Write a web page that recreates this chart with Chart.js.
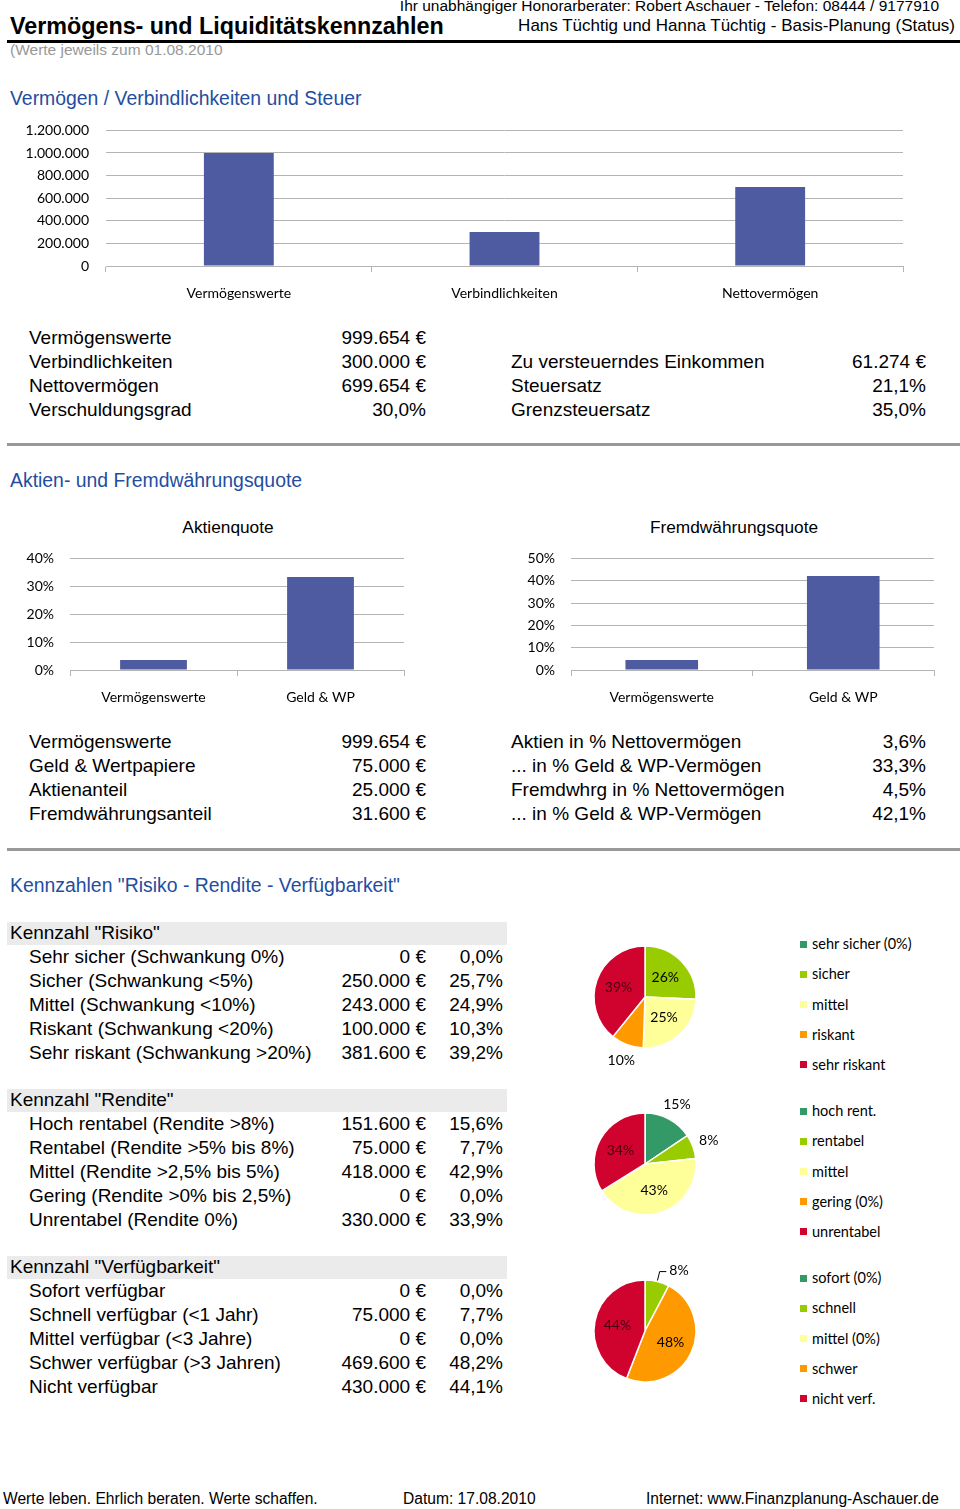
<!DOCTYPE html>
<html><head><meta charset="utf-8">
<script src="https://cdn.jsdelivr.net/npm/chart.js@4.4.0/dist/chart.umd.min.js"></script>
<style>
html,body{margin:0;padding:0;background:#fff;}
body{width:960px;height:1509px;position:relative;overflow:hidden;font-family:"Liberation Sans",Arial,sans-serif;color:#000;}
.t{position:absolute;white-space:nowrap;}
canvas{position:absolute;}
.box{position:absolute;}
</style></head><body>
<script>
// ---------- DATA ----------
const vermCategories = ['Vermögenswerte', 'Verbindlichkeiten', 'Nettovermögen'];
const vermValues = [999654, 300000, 699654];
const vermTickMax = 1200000, vermTickStep = 200000;

const quoteCategories = ['Vermögenswerte', 'Geld & WP'];
const aktienValues = [3.6, 33.3];
const aktienTickMax = 40;
const fremdValues = [4.5, 42.1];
const fremdTickMax = 50;

const tab1Labels = ['Vermögenswerte', 'Verbindlichkeiten', 'Nettovermögen', 'Verschuldungsgrad'];
const tab1Values = ['999.654 €', '300.000 €', '699.654 €', '30,0%'];
const tab1RightLabels = ['', 'Zu versteuerndes Einkommen', 'Steuersatz', 'Grenzsteuersatz'];
const tab1RightValues = ['', '61.274 €', '21,1%', '35,0%'];

const tab2Labels = ['Vermögenswerte', 'Geld & Wertpapiere', 'Aktienanteil', 'Fremdwährungsanteil'];
const tab2Values = ['999.654 €', '75.000 €', '25.000 €', '31.600 €'];
const tab2RightLabels = ['Aktien in % Nettovermögen', '... in % Geld & WP-Vermögen', 'Fremdwhrg in % Nettovermögen', '... in % Geld & WP-Vermögen'];
const tab2RightValues = ['3,6%', '33,3%', '4,5%', '42,1%'];

const risikoTitle = 'Kennzahl "Risiko"';
const risikoLabels = ['Sehr sicher (Schwankung 0%)', 'Sicher (Schwankung <5%)', 'Mittel (Schwankung <10%)', 'Riskant (Schwankung <20%)', 'Sehr riskant (Schwankung >20%)'];
const risikoAmounts = ['0 €', '250.000 €', '243.000 €', '100.000 €', '381.600 €'];
const risikoPercents = [0.0, 25.7, 24.9, 10.3, 39.2];
const risikoPieText = ['', '26%', '25%', '10%', '39%'];
const risikoLegend = ['sehr sicher (0%)', 'sicher', 'mittel', 'riskant', 'sehr riskant'];

const renditeTitle = 'Kennzahl "Rendite"';
const renditeLabels = ['Hoch rentabel (Rendite >8%)', 'Rentabel (Rendite >5% bis 8%)', 'Mittel (Rendite >2,5% bis 5%)', 'Gering (Rendite >0% bis 2,5%)', 'Unrentabel (Rendite 0%)'];
const renditeAmounts = ['151.600 €', '75.000 €', '418.000 €', '0 €', '330.000 €'];
const renditePercents = [15.6, 7.7, 42.9, 0.0, 33.9];
const renditePieText = ['15%', '8%', '43%', '', '34%'];
const renditeLegend = ['hoch rent.', 'rentabel', 'mittel', 'gering (0%)', 'unrentabel'];

const verfTitle = 'Kennzahl "Verfügbarkeit"';
const verfLabels = ['Sofort verfügbar', 'Schnell verfügbar (<1 Jahr)', 'Mittel verfügbar (<3 Jahre)', 'Schwer verfügbar (>3 Jahren)', 'Nicht verfügbar'];
const verfAmounts = ['0 €', '75.000 €', '0 €', '469.600 €', '430.000 €'];
const verfPercents = [0.0, 7.7, 0.0, 48.2, 44.1];
const verfPieText = ['', '8%', '', '48%', '44%'];
const verfLegend = ['sofort (0%)', 'schnell', 'mittel (0%)', 'schwer', 'nicht verf.'];

// ---------- STYLE ----------
const BAR_COLOR = '#4F5BA1';
const GRID = '#b4b4b4';
const BLUE = '#1F4E9F';
const PIE_COLORS = ['#339966', '#99CC00', '#FFFF99', '#FF9900', '#D0022E'];
const PIE_TEXT = ['#000', '#000', '#000', '#000', '#4a000e'];
const CHART_FONT = 'Lato, "Open Sans", sans-serif';
const TS = 19; // table font size
const fmtDot = n => String(Math.round(n)).replace(/\B(?=(\d{3})+(?!\d))/g, '.');

// ---------- helpers ----------
function tb(x, baseline, text, size, o = {}) {
  const d = document.createElement('div');
  d.className = 't';
  d.textContent = text;
  d.style.fontSize = size + 'px';
  d.style.lineHeight = (size * 1.2) + 'px';
  d.style.top = (baseline - 0.9465 * size) + 'px';
  if (o.family) d.style.fontFamily = o.family;
  if (o.weight) d.style.fontWeight = o.weight;
  if (o.color) d.style.color = o.color;
  if (o.align === 'right') d.style.right = (960 - x) + 'px';
  else if (o.align === 'center') { d.style.left = (x - 300) + 'px'; d.style.width = '600px'; d.style.textAlign = 'center'; }
  else d.style.left = x + 'px';
  document.body.appendChild(d);
  return d;
}
function box(x, y, w, h, color) {
  const d = document.createElement('div');
  d.className = 'box';
  Object.assign(d.style, {left: x + 'px', top: y + 'px', width: w + 'px', height: h + 'px', background: color});
  document.body.appendChild(d);
}
function canvas(x, y, w, h) {
  const c = document.createElement('canvas');
  c.width = w; c.height = h;
  Object.assign(c.style, {left: x + 'px', top: y + 'px', width: w + 'px', height: h + 'px'});
  document.body.appendChild(c);
  return c;
}

// ---------- header ----------
tb(939, 11.5, 'Ihr unabhängiger Honorarberater: Robert Aschauer - Telefon: 08444 / 9177910', 15.5, {align: 'right'});
tb(10, 35, 'Vermögens- und Liquiditätskennzahlen', 23.3, {weight: 'bold'});
tb(955, 32, 'Hans Tüchtig und Hanna Tüchtig - Basis-Planung (Status)', 17, {align: 'right'});
box(7, 40, 953, 3, '#000');
tb(10, 56, '(Werte jeweils zum 01.08.2010', 15.5, {color: '#999'});

tb(10, 105, 'Vermögen / Verbindlichkeiten und Steuer', 19.4, {color: BLUE});
tb(10, 487, 'Aktien- und Fremdwährungsquote', 19.4, {color: BLUE});
tb(10, 892, 'Kennzahlen "Risiko - Rendite - Verfügbarkeit"', 19.4, {color: BLUE});

box(7, 443, 953, 3, '#999');
box(7, 848, 953, 3, '#999');

// ---------- tables ----------
function twoColTable(base, labels, values, rLabels, rValues) {
  labels.forEach((l, i) => {
    const y = base + i * 24;
    if (l) { tb(29, y, l, TS); tb(426, y, values[i], TS, {align: 'right'}); }
    if (rLabels[i]) { tb(511, y, rLabels[i], TS); tb(926, y, rValues[i], TS, {align: 'right'}); }
  });
}
twoColTable(344.5, tab1Labels, tab1Values, tab1RightLabels, tab1RightValues);
twoColTable(748.5, tab2Labels, tab2Values, tab2RightLabels, tab2RightValues);

function kennTable(base, title, labels, amounts, percents) {
  box(7, base - 17.5, 500, 23, '#ebebeb');
  tb(10, base, title, TS);
  labels.forEach((l, i) => {
    const y = base + 24 * (i + 1);
    tb(29, y, l, TS);
    tb(426, y, amounts[i], TS, {align: 'right'});
    tb(503, y, percents[i].toFixed(1).replace('.', ',') + '%', TS, {align: 'right'});
  });
}
kennTable(939.5, risikoTitle, risikoLabels, risikoAmounts, risikoPercents);
kennTable(1106.5, renditeTitle, renditeLabels, renditeAmounts, renditePercents);
kennTable(1273.5, verfTitle, verfLabels, verfAmounts, verfPercents);

// ---------- footer ----------
const NARROW = '"Liberation Sans Narrow","Arial Narrow","Liberation Sans",sans-serif';
tb(3, 1505, 'Werte leben. Ehrlich beraten. Werte schaffen.', 15.6, {family: NARROW});
tb(403, 1505, 'Datum: 17.08.2010', 15.6, {family: NARROW});
tb(939, 1505, 'Internet: www.Finanzplanung-Aschauer.de', 15.6, {family: NARROW, align: 'right'});

// chart titles
tb(228, 533, 'Aktienquote', 17.3, {align: 'center'});
tb(734, 533, 'Fremdwährungsquote', 17.3, {align: 'center'});

// ---------- charts ----------
Chart.defaults.color = '#000';
Chart.defaults.font.family = CHART_FONT;
Chart.defaults.font.size = 14;
Chart.defaults.animation = false;

function barChart(cv, cats, vals, max, step, yWidth, yPad, pad, barPct, fmt) {
  return new Chart(cv, {
    type: 'bar',
    data: {labels: cats, datasets: [{data: vals, backgroundColor: BAR_COLOR, barPercentage: barPct, categoryPercentage: 1}]},
    options: {
      responsive: false,
      layout: {padding: pad},
      plugins: {legend: {display: false}, tooltip: {enabled: false}},
      scales: {
        x: {
          offset: true,
          grid: {display: true, drawOnChartArea: false, drawTicks: true, tickLength: 6, color: GRID},
          border: {display: true, color: GRID},
          ticks: {padding: 13, maxRotation: 0},
          afterFit(s) { s.height = 40; }
        },
        y: {
          min: 0, max: max,
          grid: {color: GRID, drawTicks: false},
          border: {display: false},
          ticks: {stepSize: step, padding: yPad, callback: fmt},
          afterFit(s) { s.width = yWidth; }
        }
      }
    }
  });
}
barChart(canvas(0, 104.6, 960, 205.4), vermCategories, vermValues, vermTickMax, vermTickStep, 106, 17,
  {top: 0, right: 57, bottom: 4, left: 0}, 0.263, v => fmtDot(v));
barChart(canvas(0, 533.6, 480, 181.4), quoteCategories, aktienValues, aktienTickMax, 10, 70, 16,
  {top: 0, right: 76, bottom: 5, left: 0}, 0.40, v => v + '%');
barChart(canvas(480, 533.6, 480, 181.4), quoteCategories, fremdValues, fremdTickMax, 10, 91, 16,
  {top: 0, right: 26, bottom: 5, left: 0}, 0.40, v => v + '%');

const pieLabelPlugin = {
  id: 'pieLabels',
  afterDatasetsDraw(chart, args, opts) {
    const ctx = chart.ctx;
    const meta = chart.getDatasetMeta(0);
    meta.data.forEach((arc, i) => {
      const place = opts.placement[i];
      if (!place) return;
      const p = arc.getProps(['x', 'y', 'startAngle', 'endAngle', 'outerRadius'], true);
      const a = (p.startAngle + p.endAngle) / 2;
      let f = 0.55, la = a;
      if (place === 'out') f = 1.33;
      if (place === 'lead') { f = 1.36; la = a + opts.leadShift; }
      const lx = p.x + Math.cos(la) * p.outerRadius * f;
      const ly = p.y + Math.sin(la) * p.outerRadius * f;
      ctx.save();
      ctx.font = '14px ' + CHART_FONT;
      ctx.fillStyle = place === 'in' ? PIE_TEXT[i] : '#000';
      ctx.textAlign = 'center';
      ctx.textBaseline = 'middle';
      const txt = opts.texts[i];
      ctx.fillText(txt, lx, ly);
      if (place === 'lead') {
        const w = ctx.measureText(txt).width;
        const ex = p.x + Math.cos(a) * (p.outerRadius + 1), ey = p.y + Math.sin(a) * (p.outerRadius + 1);
        const bx = p.x + Math.cos(a) * p.outerRadius * 1.2, by = p.y + Math.sin(a) * p.outerRadius * 1.2;
        ctx.strokeStyle = '#000'; ctx.lineWidth = 1;
        ctx.beginPath(); ctx.moveTo(ex, ey); ctx.lineTo(bx, by); ctx.lineTo(lx - w / 2 - 3, by); ctx.stroke();
      }
      ctx.restore();
    });
  }
};

function pieChart(cx, cy, vals, texts, placement, legend) {
  const cv = canvas(cx - 100, cy - 100, 200, 200);
  new Chart(cv, {
    type: 'pie',
    data: {labels: legend, datasets: [{data: vals, backgroundColor: PIE_COLORS, borderColor: '#fff', borderWidth: 1.5, radius: 51}]},
    options: {
      responsive: false,
      layout: {padding: 0},
      plugins: {legend: {display: false}, tooltip: {enabled: false},
        pieLabels: {texts: texts, placement: placement, leadShift: 0.27}}
    },
    plugins: [pieLabelPlugin]
  });
  legend.forEach((l, i) => {
    const y = cy - 53 + i * 30.2;
    box(800, y - 3.5, 7, 7, PIE_COLORS[i]);
    tb(812, y + 5, l, 14.5, {family: CHART_FONT});
  });
}
pieChart(645, 997, risikoPercents, risikoPieText, [null, 'in', 'in', 'out', 'in'], risikoLegend);
pieChart(645, 1164, renditePercents, renditePieText, ['out', 'out', 'in', null, 'in'], renditeLegend);
pieChart(645, 1331, verfPercents, verfPieText, [null, 'lead', null, 'in', 'in'], verfLegend);
</script>
</body></html>
